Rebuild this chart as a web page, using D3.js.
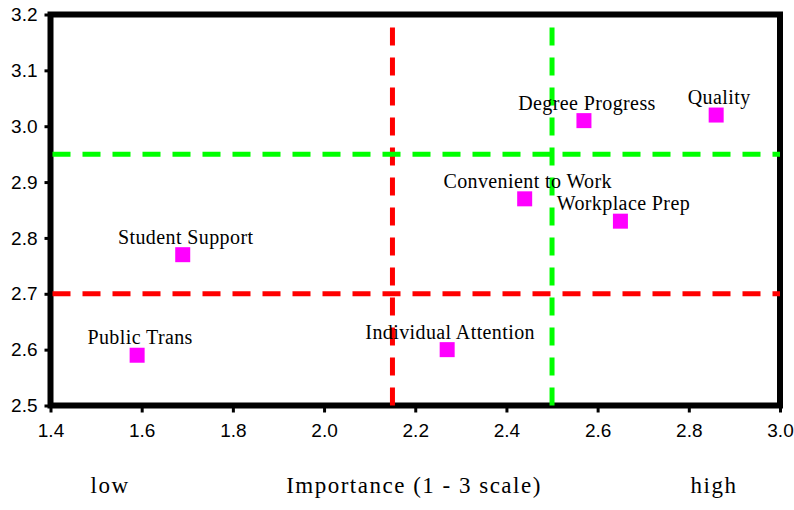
<!DOCTYPE html>
<html>
<head>
<meta charset="utf-8">
<script src="https://cdn.jsdelivr.net/npm/d3@7"></script>
<style>
  html, body { margin: 0; padding: 0; background: #fff; }
  svg { display: block; }
</style>
</head>
<body>
<svg id="chart" width="794" height="510"></svg>
<script>
// ---- data ----
const labels = ["Public Trans", "Student Support", "Individual Attention", "Convenient to Work", "Workplace Prep", "Degree Progress", "Quality"];
const importance = [1.59, 1.69, 2.27, 2.44, 2.65, 2.57, 2.86];
const satisfaction = [2.59, 2.77, 2.60, 2.87, 2.83, 3.01, 3.02];
const xTicks = [1.4, 1.6, 1.8, 2.0, 2.2, 2.4, 2.6, 2.8, 3.0];
const yTicks = [2.5, 2.6, 2.7, 2.8, 2.9, 3.0, 3.1, 3.2];
const refX = [{ v: 2.15, color: "#ff0000" }, { v: 2.5, color: "#00ff00" }];
const refY = [{ v: 2.95, color: "#00ff00" }, { v: 2.7, color: "#ff0000" }];
const bottomTexts = ["low", "Importance (1 - 3 scale)", "high"];

// ---- layout ----
const svg = d3.select("#chart");
const x = d3.scaleLinear().domain([1.4, 3.0]).range([50.5, 780]);
const y = d3.scaleLinear().domain([2.5, 3.2]).range([405.5, 14.5]);

// axes (tick marks + labels)
const fmt = d3.format(".1f");
const gx = svg.append("g").attr("transform", `translate(0,${y.range()[0]})`)
  .call(d3.axisBottom(x).tickValues(xTicks).tickFormat(fmt).tickSize(7).tickPadding(11));
const gy = svg.append("g").attr("transform", `translate(${x.range()[0]},0)`)
  .call(d3.axisLeft(y).tickValues(yTicks).tickFormat(fmt).tickSize(6).tickPadding(7));
[gx, gy].forEach(g => {
  g.select(".domain").remove();
  g.selectAll(".tick line").attr("stroke", "#000").attr("stroke-width", 3);
  g.selectAll(".tick text")
    .attr("fill", "#000")
    .style("font-family", "'Liberation Sans', Arial, sans-serif")
    .style("font-size", "19px");
});
gx.selectAll(".tick text").attr("dy", "0.71em");

// frame
svg.append("rect")
  .attr("x", x.range()[0]).attr("y", y.range()[1])
  .attr("width", x.range()[1] - x.range()[0])
  .attr("height", y.range()[0] - y.range()[1])
  .attr("fill", "none").attr("stroke", "#000").attr("stroke-width", 6);

// reference lines (drawn on top of frame)
svg.selectAll("line.refx").data(refX).join("line")
  .attr("class", "refx")
  .attr("x1", d => x(d.v)).attr("x2", d => x(d.v))
  .attr("y1", y.range()[0]).attr("y2", y.range()[1] + 1)
  .attr("stroke", d => d.color).attr("stroke-width", 5)
  .attr("stroke-dasharray", "18,12");
svg.selectAll("line.refy").data(refY).join("line")
  .attr("class", "refy")
  .attr("y1", d => y(d.v)).attr("y2", d => y(d.v))
  .attr("x1", x.range()[0]).attr("x2", x.range()[1])
  .attr("stroke", d => d.color).attr("stroke-width", 5)
  .attr("stroke-dasharray", "18,12").attr("stroke-dashoffset", -2);

// points
const pts = labels.map((l, i) => ({ label: l, x: importance[i], y: satisfaction[i] }));
const sz = 15;
svg.selectAll("rect.pt").data(pts).join("rect")
  .attr("class", "pt")
  .attr("x", d => x(d.x) - sz / 2).attr("y", d => y(d.y) - sz / 2)
  .attr("width", sz).attr("height", sz)
  .attr("fill", "#ff00ff");

svg.selectAll("text.lbl").data(pts).join("text")
  .attr("class", "lbl")
  .attr("x", d => x(d.x) + 3).attr("y", d => y(d.y) - 11)
  .attr("text-anchor", "middle")
  .style("font-family", "'Liberation Serif', 'Times New Roman', serif")
  .style("font-size", "20px")
  .style("letter-spacing", "0.4px")
  .attr("fill", "#000")
  .text(d => d.label);

// bottom annotation texts
const bx = [110, 414, 714];
svg.selectAll("text.bt").data(bottomTexts).join("text")
  .attr("class", "bt")
  .attr("x", (d, i) => bx[i]).attr("y", 493)
  .attr("text-anchor", "middle")
  .style("font-family", "'Liberation Serif', 'Times New Roman', serif")
  .style("font-size", "23px")
  .style("letter-spacing", "1.5px")
  .attr("fill", "#000")
  .text(d => d);
</script>
</body>
</html>
